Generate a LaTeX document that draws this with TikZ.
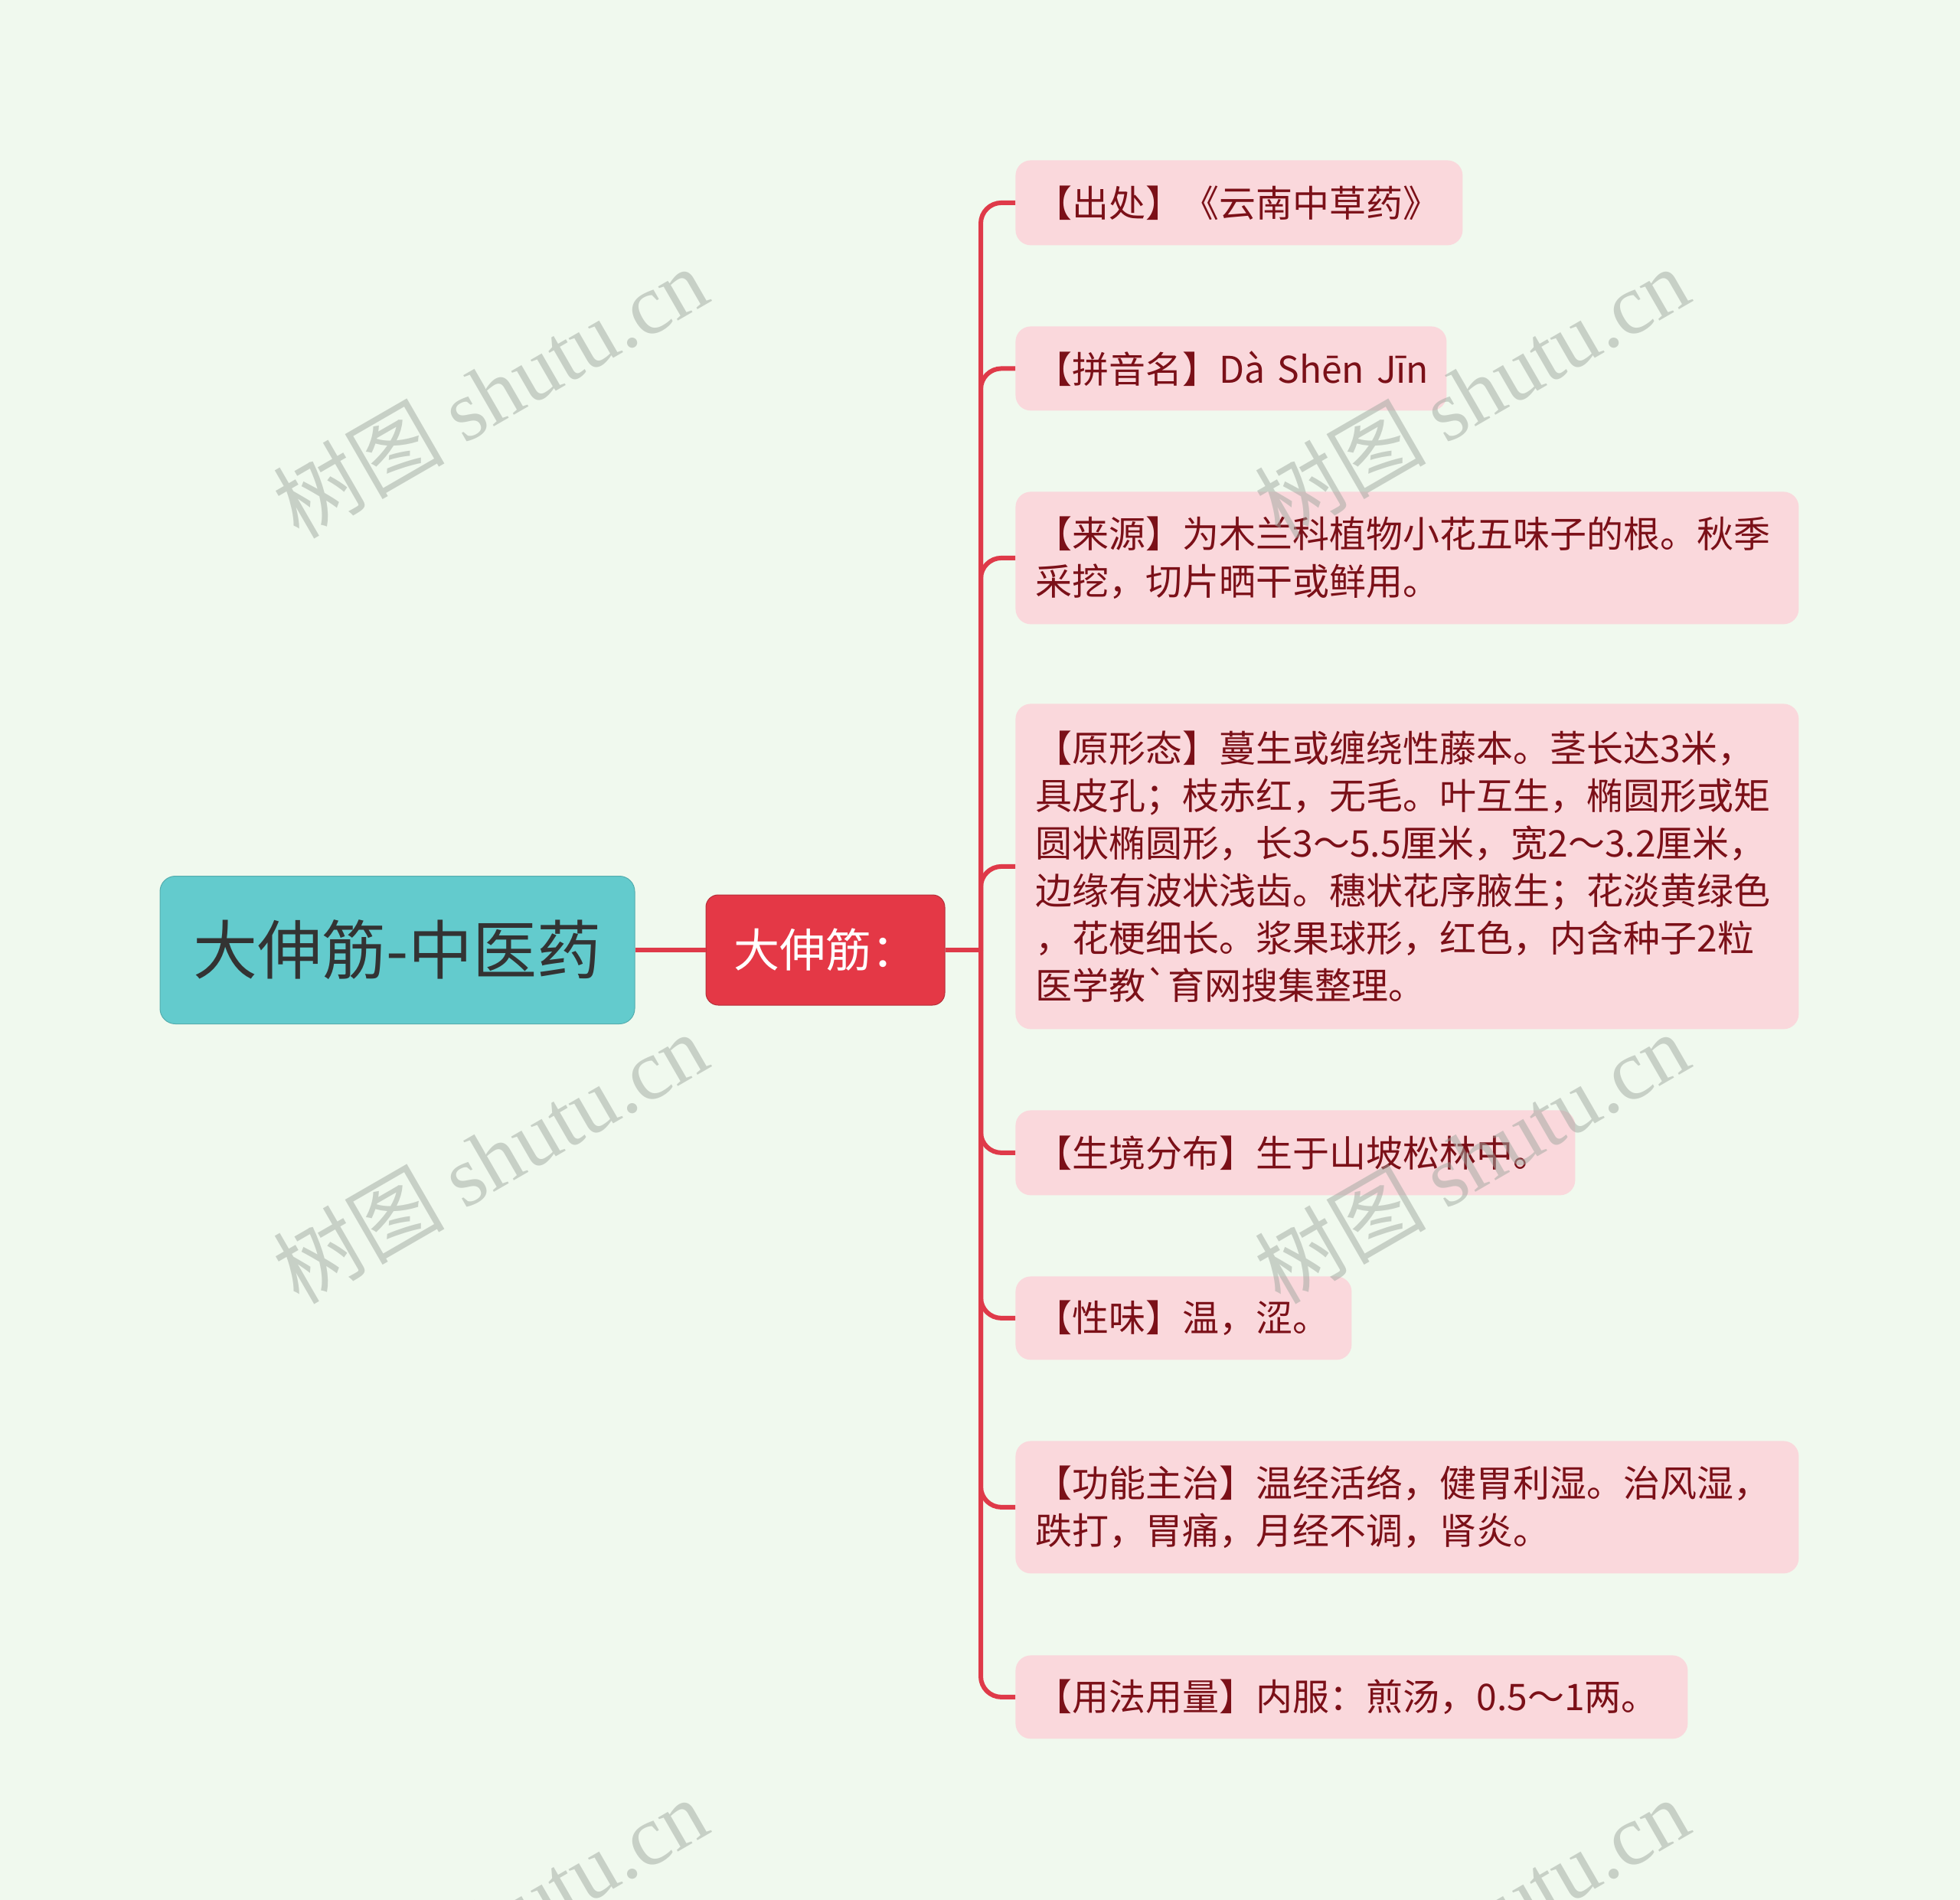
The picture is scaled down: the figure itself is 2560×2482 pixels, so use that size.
\documentclass[tikz,border=0pt]{standalone}
\usepackage{fontspec}
\setmainfont{Noto Sans CJK SC}[Ligatures=TeXOff]
\newfontfamily\wmfont{Liberation Serif}
\usetikzlibrary{positioning}

\definecolor{bgmint}{HTML}{F0F9EE}
\definecolor{rootteal}{HTML}{63CBCD}
\definecolor{subred}{HTML}{E43846}
\definecolor{leafpink}{HTML}{FAD8DC}
\definecolor{leaftext}{HTML}{7B1018}
\definecolor{linkred}{HTML}{DF3A49}
\definecolor{wmgrey}{HTML}{A0A8A0}

\tikzset{
  rootbox/.style={rectangle,rounded corners=10pt,fill=rootteal,draw=rootteal!85!black,line width=0.5pt,
    minimum width=310pt,minimum height=96.5pt,text=black!80,font=\fontsize{42pt}{50pt}\selectfont},
  subbox/.style={rectangle,rounded corners=8pt,fill=subred,draw=subred!80!black,line width=0.5pt,
    minimum width=156pt,minimum height=72pt,text=white,font=\fontsize{30pt}{36pt}\selectfont},
  leafbox/.style={rectangle,rounded corners=10pt,fill=leafpink,anchor=north west,inner xsep=13pt,
    align=left,text=leaftext,font=\fontsize{24pt}{31pt}\selectfont},
  link/.style={draw=linkred,line width=3pt,rounded corners=13.5pt},
  wmark/.style={text=wmgrey,opacity=0.5,rotate=30,font=\fontsize{56pt}{60pt}\selectfont}
}

\begin{document}
\begin{tikzpicture}[x=0.5pt,y=-0.5pt]
\fill[bgmint] (0,0) rectangle (2560,2482);
\useasboundingbox (0,0) rectangle (2560,2482);

% main topic and its one subtopic
\node[rootbox] (root) at (519,1241) {大伸筋-中医药};
\node[subbox] (sub) at (1078,1241) {大伸筋：};
  \draw[link] (root) -- (sub);
\coordinate (hub) at (1281,1241);
  \draw[link] (sub.east) -- (hub);

% leaves
\node[leafbox,text width=266pt,minimum height=55.5pt] (chuchu) at (1326,209) {【出处】《云南中草药》};
  \draw[link] (hub) |- (chuchu.west);
\node[leafbox,text width=255.5pt,minimum height=55pt] (pinyin) at (1326,426) {\mbox{【拼音名】Dà Shēn Jīn}};
  \draw[link] (hub) |- (pinyin.west);
\node[leafbox,text width=485.5pt,minimum height=86.5pt] (laiyuan) at (1326,642)
  {【来源】为木兰科植物小花五味子的根。秋季\\采挖，切片晒干或鲜用。};
  \draw[link] (hub) |- (laiyuan.west);
\node[leafbox,text width=485.5pt,minimum height=212.5pt] (xingtai) at (1326,919)
  {【原形态】蔓生或缠绕性藤本。茎长达3米，\\具皮孔；枝赤红，无毛。叶互生，椭圆形或矩\\圆状椭圆形，长3～5.5厘米，宽2～3.2厘米，\\边缘有波状浅齿。穗状花序腋生；花淡黄绿色\\，花梗细长。浆果球形，红色，内含种子2粒\\医学教`育网搜集整理。};
  \draw[link] (hub) |- (xingtai.west);
\node[leafbox,text width=339.5pt,minimum height=55.5pt] (shengjing) at (1326,1450) {【生境分布】生于山坡松林中。};
  \draw[link] (hub) |- (shengjing.west);
\node[leafbox,text width=193.5pt,minimum height=54.5pt] (xingwei) at (1326,1667) {【性味】温，涩。};
  \draw[link] (hub) |- (xingwei.west);
\node[leafbox,text width=485.5pt,minimum height=86.5pt] (gongneng) at (1326,1882)
  {【功能主治】温经活络，健胃利湿。治风湿，\\跌打，胃痛，月经不调，肾炎。};
  \draw[link] (hub) |- (gongneng.west);
\node[leafbox,text width=413pt,minimum height=54.5pt] (yongfa) at (1326,2162) {【用法用量】内服：煎汤，0.5～1两。};
  \draw[link] (hub) |- (yongfa.west);

% watermarks
\node[wmark] (wm1) at (640,512) {树图 {\wmfont shutu.cn}};
\node[wmark] (wm2) at (1922,512) {树图 {\wmfont shutu.cn}};
\node[wmark] (wm3) at (640,1512) {树图 {\wmfont shutu.cn}};
\node[wmark] (wm4) at (1922,1512) {树图 {\wmfont shutu.cn}};
\node[wmark] (wm5) at (640,2512) {树图 {\wmfont shutu.cn}};
\node[wmark] (wm6) at (1922,2512) {树图 {\wmfont shutu.cn}};
\end{tikzpicture}
\end{document}
